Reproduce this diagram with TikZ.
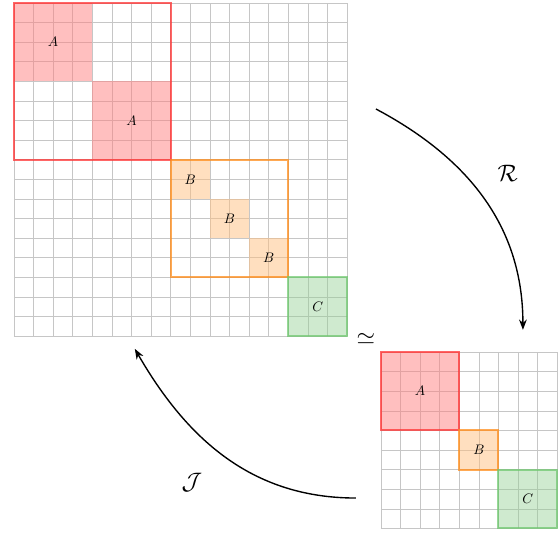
\documentclass[tikz,border=0pt]{standalone}
\usepackage{amsmath,amssymb}
\usetikzlibrary{positioning,arrows.meta,calc}

\begin{document}
\begin{tikzpicture}[
  x=0.5cm, y=0.5cm,
  >=Stealth,
  gridln/.style={draw=gray!45, line width=0.4pt, step=0.5cm},
  fillA/.style={fill=red!50, fill opacity=0.5},
  fillB/.style={fill=orange!50, fill opacity=0.5},
  fillC/.style={fill=green!40!gray!60, fill opacity=0.45},
  frameA/.style={draw=red!80, draw opacity=0.75, line width=1.4pt},
  frameB/.style={draw=orange!90, draw opacity=0.75, line width=1.4pt},
  frameC/.style={draw=green!45!gray!80, draw opacity=0.7, line width=1.4pt},
  lbl/.style={font=\normalsize},
  map/.style={->, line width=1pt}
]
\useasboundingbox (-0.71,0.15) rectangle (27.76,-27.04);

% big matrix
\draw[gridln] (0,0) grid (17,-17);
\fill[fillA] (0,0) rectangle (4,-4);
\fill[fillA] (4,-4) rectangle (8,-8);
\draw[frameA] (0,0) rectangle (8,-8);
\fill[fillB] (8,-8) rectangle (10,-10);
\fill[fillB] (10,-10) rectangle (12,-12);
\fill[fillB] (12,-12) rectangle (14,-14);
\draw[frameB] (8,-8) rectangle (14,-14);
\fill[fillC] (14,-14) rectangle (17,-17);
\draw[frameC] (14,-14) rectangle (17,-17);

\node[lbl] (A1) at (2,-2) {$A$};
\node[lbl] (A2) at (6,-6) {$A$};
\node[lbl] (B1) at (9,-9) {$B$};
\node[lbl] (B2) at (11,-11) {$B$};
\node[lbl] (B3) at (13,-13) {$B$};
\node[lbl] (C1) at (15.5,-15.5) {$C$};

% reduced matrix
\begin{scope}[shift={(18.72,-17.81)}]
\draw[gridln] (0,0) grid (9,-9);
\fill[fillA] (0,0) rectangle (4,-4);
\draw[frameA] (0,0) rectangle (4,-4);
\fill[fillB] (4,-4) rectangle (6,-6);
\draw[frameB] (4,-4) rectangle (6,-6);
\fill[fillC] (6,-6) rectangle (9,-9);
\draw[frameC] (6,-6) rectangle (9,-9);
\node[lbl] (a1) at (2,-2) {$A$};
\node[lbl] (b1) at (5,-5) {$B$};
\node[lbl] (c1) at (7.5,-7.5) {$C$};
\end{scope}

\node (iso) at (17.96,-17.14) {\LARGE $\simeq$};

% maps
\coordinate (rStart) at (18.47,-5.41);
\coordinate (rEnd) at (25.97,-16.68);
\coordinate (jStart) at (17.45,-25.26);
\coordinate (jEnd) at (6.17,-17.65);
\draw[map] (rStart) to[out=-28, in=90] (rEnd);
\draw[map] (jStart) to[out=180, in=-60] (jEnd);
\node (rLbl) at (25.2,-8.72) {\LARGE $\mathcal{R}$};
\node (jLbl) at (9.08,-24.49) {\LARGE $\mathcal{J}$};
\end{tikzpicture}
\end{document}
